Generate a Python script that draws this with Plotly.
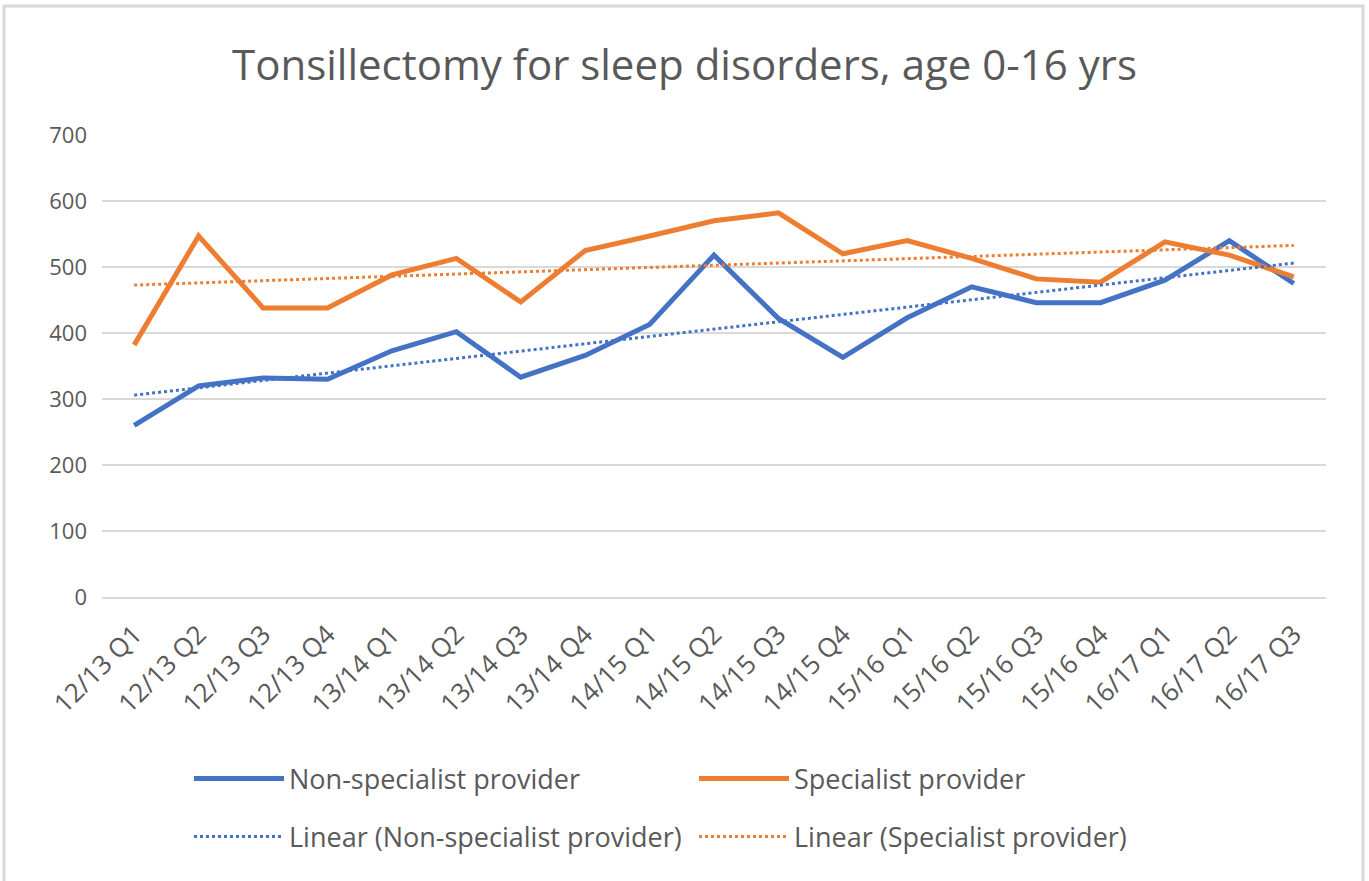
import numpy as np
import plotly.graph_objects as go

quarters = ["12/13 Q1", "12/13 Q2", "12/13 Q3", "12/13 Q4",
            "13/14 Q1", "13/14 Q2", "13/14 Q3", "13/14 Q4",
            "14/15 Q1", "14/15 Q2", "14/15 Q3", "14/15 Q4",
            "15/16 Q1", "15/16 Q2", "15/16 Q3", "15/16 Q4",
            "16/17 Q1", "16/17 Q2", "16/17 Q3"]
non_specialist = [260, 320, 332, 330, 373, 402, 333, 366, 413, 518,
                  422, 363, 423, 470, 446, 446, 480, 540, 475]
specialist = [382, 547, 438, 438, 488, 513, 447, 525, 547, 570,
              582, 520, 540, 513, 482, 477, 538, 518, 485]

BLUE = "#4472C4"
ORANGE = "#ED7D31"
FONT = "Open Sans"
GRAY = "#595959"

idx = np.arange(len(quarters))
def linear_trend(vals):
    m, b = np.polyfit(idx, np.array(vals, dtype=float), 1)
    return m * idx + b

fig = go.Figure()
fig.add_trace(go.Scatter(x=quarters, y=non_specialist, mode="lines",
                         name="Non-specialist provider", legend="legend",
                         line=dict(color=BLUE, width=5)))
fig.add_trace(go.Scatter(x=quarters, y=specialist, mode="lines",
                         name="Specialist provider", legend="legend",
                         line=dict(color=ORANGE, width=5)))
fig.add_trace(go.Scatter(x=quarters, y=linear_trend(non_specialist), mode="lines",
                         name="Linear (Non-specialist provider)", legend="legend2",
                         line=dict(color=BLUE, width=3, dash="dot")))
fig.add_trace(go.Scatter(x=quarters, y=linear_trend(specialist), mode="lines",
                         name="Linear (Specialist provider)", legend="legend2",
                         line=dict(color=ORANGE, width=3, dash="dot")))

L, R, T, B = 102, 1326, 135, 597
W, H = 1369, 881
pw, ph = R - L, B - T

leg_common = dict(orientation="h", x=(189 - L) / pw, xanchor="left",
                  yanchor="middle", entrywidth=400, entrywidthmode="pixels",
                  itemwidth=90, bgcolor="rgba(0,0,0,0)",
                  font=dict(family=FONT, size=27, color=GRAY))

fig.update_layout(
    width=W, height=H,
    margin=dict(l=L, r=W - R, t=T, b=H - B, pad=0),
    paper_bgcolor="white", plot_bgcolor="white",
    font=dict(family=FONT, color=GRAY, size=21),
    title=dict(text="Tonsillectomy for sleep disorders, age 0-16 yrs",
               x=0.5, xanchor="center", y=1 - 65 / H, yanchor="middle",
               font=dict(family=FONT, size=42, color=GRAY)),
    xaxis=dict(type="category", range=[-0.5, len(quarters) - 0.5],
               tickangle=-45, showgrid=False, showline=True,
               linecolor="#D9D9D9", linewidth=1.5, ticks="",
               ticklabelstandoff=10,
               tickfont=dict(size=26, color=GRAY), fixedrange=True),
    yaxis=dict(range=[0, 700], dtick=100, showgrid=True, gridcolor="#D9D9D9",
               gridwidth=1.5, zeroline=False, showline=False, ticks="",
               ticklabelstandoff=14,
               tickfont=dict(size=22, color=GRAY), fixedrange=True),
    legend=dict(y=(B - 779) / ph, **leg_common),
    legend2=dict(y=(B - 837) / ph, **leg_common),
    showlegend=True,
)

fig.add_shape(type="rect", xref="paper", yref="paper",
              x0=(4 - L) / pw, x1=(1363 - L) / pw,
              y0=(B - 884) / ph, y1=(B - 6) / ph,
              line=dict(color="#D9D9D9", width=3), fillcolor="rgba(0,0,0,0)",
              layer="below")

fig.write_html("out.html", config={"displayModeBar": False},
               post_script="document.body.style.margin='0px';")
